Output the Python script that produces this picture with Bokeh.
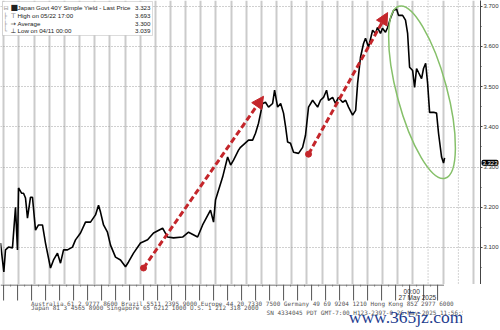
from bokeh.plotting import figure
from bokeh.layouts import column
from bokeh.models import (Range1d, FixedTicker, NumeralTickFormatter, Span, Label,
                          BoxAnnotation, Arrow, NormalHead)
from bokeh.embed import file_html
from bokeh.resources import INLINE

# ---- data: trading-day index since 11 Apr 2025 (day 28 = 27 May 00:00) ----
days = [-0.22, 0.00, 0.11, 0.31, 0.57, 0.77, 0.90, 0.97, 1.17, 1.30, 1.43, 1.56, 1.76, 1.89,
        2.09, 2.29, 2.55, 2.75, 3.08, 3.28, 3.54, 3.74, 3.94, 4.20, 4.53, 4.73, 5.06, 5.39,
        5.72, 6.05, 6.25, 6.38, 6.58, 6.84, 7.04, 7.37, 7.70, 8.03, 8.23, 8.56, 9.02, 9.49,
        9.88, 10.48, 10.81, 11.20, 11.80, 12.19, 12.79, 13.12, 13.64, 13.84, 13.97, 14.44,
        14.77, 14.97, 15.16, 15.49, 15.62, 16.15, 16.42, 16.61, 16.81, 17.08, 17.27, 17.47,
        17.74, 17.87, 18.07, 18.27, 18.46, 18.60, 18.73, 18.92, 19.12, 19.45, 19.72, 19.91,
        20.11, 20.38, 20.71, 20.90, 21.10, 21.30, 21.43, 21.70, 21.89, 22.09, 22.36, 22.56,
        22.75, 23.02, 23.22, 23.35, 23.54, 23.74, 23.87, 24.07, 24.34, 24.53, 24.66, 24.86,
        24.99, 25.19, 25.33, 25.52, 25.72, 25.92, 26.05, 26.32, 26.51, 26.65, 26.78, 26.98,
        27.11, 27.24, 27.37, 27.57, 27.70, 27.84, 27.97, 28.10, 28.37, 28.56, 28.69, 28.89,
        29.02, 29.09]
yields = [3.111, 3.039, 3.094, 3.101, 3.099, 3.200, 3.094, 3.248, 3.235, 3.235, 3.223, 3.173,
          3.225, 3.225, 3.143, 3.156, 3.156, 3.111, 3.049, 3.069, 3.086, 3.061, 3.094, 3.094,
          3.101, 3.119, 3.136, 3.163, 3.163, 3.181, 3.205, 3.188, 3.156, 3.138, 3.106, 3.076,
          3.069, 3.052, 3.064, 3.086, 3.111, 3.119, 3.136, 3.148, 3.126, 3.124, 3.126, 3.138,
          3.126, 3.156, 3.193, 3.163, 3.218, 3.275, 3.325, 3.305, 3.317, 3.342, 3.349, 3.367,
          3.367, 3.384, 3.409, 3.458, 3.461, 3.449, 3.458, 3.491, 3.449, 3.458, 3.434, 3.399,
          3.362, 3.359, 3.337, 3.334, 3.349, 3.379, 3.449, 3.466, 3.449, 3.466, 3.473, 3.491,
          3.466, 3.473, 3.458, 3.473, 3.461, 3.466, 3.449, 3.429, 3.441, 3.508, 3.573, 3.607,
          3.620, 3.598, 3.640, 3.632, 3.647, 3.632, 3.645, 3.635, 3.647, 3.670, 3.689, 3.693,
          3.677, 3.677, 3.665, 3.632, 3.548, 3.540, 3.498, 3.545, 3.535, 3.520, 3.545, 3.558,
          3.508, 3.436, 3.436, 3.434, 3.384, 3.325, 3.310, 3.323]

y_ticks = [3.1, 3.2, 3.3, 3.4, 3.5, 3.6, 3.7]
y_minor = [3.05, 3.15, 3.25, 3.35, 3.45, 3.55, 3.65]
legend_names = ["Japan Govt 40Y Simple Yield - Last Price", "High on 05/22 17:00",
                "Average", "Low on 04/11 00:00"]
legend_values = ["3.323", "3.693", "3.300", "3.039"]
last_price = 3.323
date_tick_day = 28
date_tick_text = ["00:00", "27 May 2025"]
footer_lines = [
    "Australia 61 2 9777 8600 Brazil 5511 2395 9000 Europe 44 20 7330 7500 Germany 49 69 9204 1210 Hong Kong 852 2977 6000",
    "Japan 81 3 4565 8900         Singapore 65 6212 1000  U.S. 1 212 318 2000",
    "SN 4334045 PDT  GMT-7:00 H123-2397-0 26-May-2025 11:56:57",
]
watermark = "www.365jz.com"
# annotation arrows (start day, start yield, end day, end yield)
arrows = [(9.22, 3.049, 17.14, 3.476), (20.11, 3.332, 25.33, 3.684)]
ellipse_center = (27.6, 3.486)

XR = (-0.22, 31.46)
YR = (3.008, 3.714)
FW, FH = 480, 284

p = figure(frame_width=FW, frame_height=FH, output_backend="svg", toolbar_location=None,
           x_range=Range1d(*XR), y_range=Range1d(*YR), y_axis_location="right",
           min_border_left=0, min_border_top=0, min_border_right=0, min_border_bottom=0)
p.outline_line_color = None
p.background_fill_color = "white"
p.xaxis.visible = False

sx = (XR[1] - XR[0]) / FW
sy = (YR[1] - YR[0]) / FH
def dx(px):
    return XR[0] + px * sx
def dy(py):
    return YR[1] - py * sy

# grids
all_days = list(range(0, 32))
solid_days = [d for d in all_days if d not in (28, 30)]
p.xgrid.ticker = FixedTicker(ticks=solid_days)
p.xgrid.grid_line_color = "#cbcbcb"
p.xgrid.grid_line_width = 2
for d in (28, 30):
    p.add_layout(Span(location=d, dimension="height", line_color="#a8a8a8",
                      line_dash="1 2", line_width=1, level="underlay"))
p.ygrid.ticker = FixedTicker(ticks=y_ticks)
p.ygrid.grid_line_color = "#a0a0a0"
p.ygrid.grid_line_dash = "1 2"
p.ygrid.grid_line_width = 1

# right axis
ya = p.yaxis[0]
ya.ticker = FixedTicker(ticks=y_ticks, minor_ticks=y_minor)
ya.formatter = NumeralTickFormatter(format="0.000")
ya.major_label_text_font = "Liberation Sans"
ya.major_label_text_font_size = "6px"
ya.major_label_text_color = "#333333"
ya.major_label_standoff = 1
ya.major_tick_out = 2
ya.major_tick_in = 0
ya.minor_tick_out = 1
ya.minor_tick_in = 0
ya.axis_line_color = "#444444"
ya.major_tick_line_color = "#444444"
ya.minor_tick_line_color = "#444444"

# price line
p.line(days, yields, line_color="black", line_width=1.6)

# red dashed arrows
red = "#c4262b"
for (x0, y0, x1, y1) in arrows:
    p.add_layout(Arrow(x_start=x0, y_start=y0, x_end=x1, y_end=y1,
                       line_color=red, line_width=3, line_dash="6 3",
                       end=NormalHead(size=12, fill_color=red, line_color=red)))
p.scatter([a[0] for a in arrows], [a[1] for a in arrows], size=6, color=red)

# green ellipse
p.ellipse(x=[ellipse_center[0]], y=[ellipse_center[1]], width=[50], height=[178],
          angle=[0.262], width_units="screen", height_units="screen",
          fill_color=None, line_color="#86c06a", line_width=1.5)

# legend box
p.add_layout(BoxAnnotation(left=dx(2), right=dx(152), top=dy(1), bottom=dy(35),
                           fill_color="white", fill_alpha=1.0,
                           line_color="#8a8a8a", line_width=1))
row_y = [7, 15, 23, 30]
icons = ["\u25a0", "\u22a4", "\u2192", "\u22a5"]
tree = ["\u229f", "\u251c", "\u251c", "\u2514"]
for i in range(4):
    p.add_layout(Label(x=dx(3), y=dy(row_y[i]), text=tree[i], text_font="DejaVu Sans",
                       text_font_size="6px", text_color="#888888", text_baseline="middle"))
    p.add_layout(Label(x=dx(10), y=dy(row_y[i]), text=icons[i], text_font="DejaVu Sans",
                       text_font_size="6.5px" if i else "8px", text_color="#222222",
                       text_baseline="middle"))
    p.add_layout(Label(x=dx(17), y=dy(row_y[i]), text=legend_names[i],
                       text_font="Liberation Sans", text_font_size="6.2px",
                       text_color="#222222", text_baseline="middle"))
    p.add_layout(Label(x=dx(150), y=dy(row_y[i]), text=legend_values[i],
                       text_font="Liberation Sans", text_font_size="6.2px",
                       text_color="#222222", text_baseline="middle", text_align="right"))

# last price tag on the right axis (in the side panel so it is not clipped by the frame)
p.add_layout(Label(x=XR[1], y=last_price, x_offset=1, y_offset=-5, text="3.323",
                   text_font="Liberation Sans", text_font_size="6px", text_color="white",
                   text_baseline="middle", background_fill_color="black",
                   padding=1, border_radius=2), "right")

# ---- bottom strip: x axis ticks, date label, footer ----
FOOT_H = 46
f = figure(width=500, height=FOOT_H, output_backend="svg", toolbar_location=None,
           x_range=Range1d(XR[0], XR[0] + 500 * sx), y_range=Range1d(FOOT_H, 0),
           x_axis_location=None, y_axis_location=None,
           min_border_left=0, min_border_top=0, min_border_right=0, min_border_bottom=0)
f.outline_line_color = None
f.grid.visible = False

f.segment(x0=[XR[0]], y0=[0.5], x1=[XR[1]], y1=[0.5], line_color="#444444", line_width=1)
f.segment(x0=all_days, y0=[0] * len(all_days), x1=all_days, y1=[16] * len(all_days),
          line_color="#555555", line_width=1)
half_days = [d + 0.5 for d in all_days[:-1]]
f.segment(x0=half_days, y0=[0] * len(half_days), x1=half_days, y1=[2] * len(half_days),
          line_color="#777777", line_width=1)

f.add_layout(Label(x=date_tick_day, y=3, x_offset=8, text=date_tick_text[0],
                   text_font="Liberation Sans", text_font_size="6.5px", text_color="#333333",
                   text_baseline="top"))
f.add_layout(Label(x=date_tick_day, y=9, x_offset=3, text=date_tick_text[1],
                   text_font="Liberation Sans", text_font_size="6.5px", text_color="#333333",
                   text_baseline="top"))

foot_pos = [(33, 15), (33, 19), (288, 24)]
for (fx, fy), txt in zip(foot_pos, footer_lines):
    f.add_layout(Label(x=dx(fx), y=fy, text=txt, text_font="DejaVu Sans Mono",
                       text_font_size="6px", text_color="#555555", text_baseline="top"))

f.add_layout(Label(x=dx(377), y=22, text=watermark, text_font="Liberation Serif",
                   text_font_size="17.5px", text_color="#1e3d8f", text_baseline="top"))

layout = column(p, f, spacing=0)
open("out.html", "w").write(file_html(layout, INLINE))
